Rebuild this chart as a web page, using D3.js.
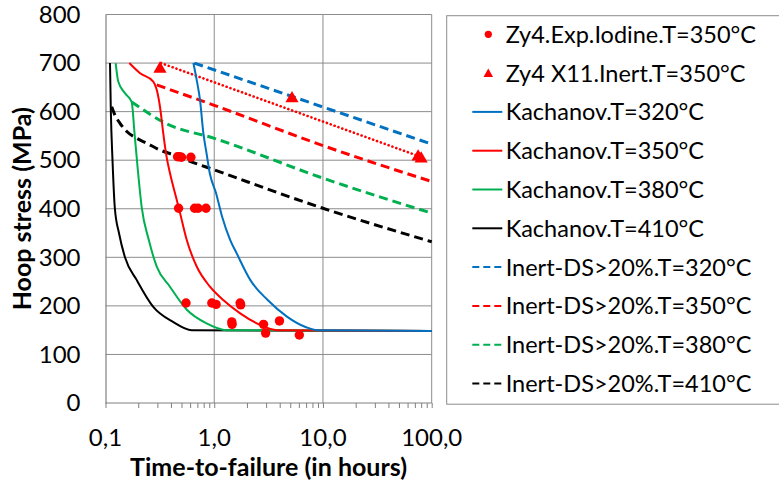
<!DOCTYPE html>
<html><head><meta charset="utf-8">
<script src="https://cdn.jsdelivr.net/npm/d3@7"></script>
<style>body{margin:0;background:#fff}svg{display:block}text{font-family:Lato,"Open Sans",sans-serif;fill:#000}</style>
</head><body>
<svg id="c" width="779" height="491"></svg>
<script>
// ---- data (time in hours, stress in MPa) ----
const xTicks = [0.1, 1, 10, 100];
const xTickLabels = ["0,1", "1,0", "10,0", "100,0"];
const yTicks = [0, 100, 200, 300, 400, 500, 600, 700, 800];

const iodine350 = [[0.46,507],[0.48,507],[0.50,506],[0.61,506],
  [0.47,401],[0.66,401],[0.71,401],[0.84,401],
  [0.55,206],[0.95,206],[1.04,203],[1.73,206],[1.75,202],
  [1.45,167],[1.46,162],[2.84,162],[2.97,144],[3.98,169],[6.06,140]];
const inert350 = [[0.317,688],[5.19,627],[75,507],[80,503]];
const inert350Trend = [[0.324,700],[79,507]];

const kach320 = [[0.643,700],[0.69,665],[0.74,624],[0.795,555],[0.85,514],[0.91,473],[1.04,432],[1.18,384],[1.40,336],[1.61,308],[2.15,253],[3.1,212],[4.66,178],[7.0,156],[8.8,150],[100,148.5]];
const kach350 = [[0.1655,700],[0.208,679],[0.275,662],[0.296,645],[0.317,610],[0.34,555],[0.36,514],[0.392,473],[0.45,420],[0.485,391],[0.558,336],[0.69,281],[0.91,240],[1.21,212],[1.72,185],[2.63,161],[3.76,150],[100,148.5]];
const kach380 = [[0.124,700],[0.131,662],[0.151,638],[0.174,620],[0.185,555],[0.197,487],[0.215,404],[0.25,336],[0.296,281],[0.39,240],[0.56,192],[0.85,164],[1.3,150],[100,148.5]];
const kach410 = [[0.110,700],[0.112,600],[0.116,500],[0.122,400],[0.133,350],[0.151,300],[0.194,253],[0.275,198],[0.418,167],[0.62,150],[100,148.5]];

const inert320 = [[0.656,700],[100,533]];
const inert350DS = [[0.296,655],[1,613],[10,530],[100,456]];
const inert380 = [[0.174,620],[0.365,575],[1,545],[10,463],[100,391]];
const inert410 = [[0.114,610],[0.122,593],[0.136,576],[0.157,559],[0.194,545],[0.239,535],[0.317,521],[0.42,511],[0.56,500],[1,480],[10,401],[100,332]];

const legendLabels = ["Zy4.Exp.Iodine.T=350°C","Zy4 X11.Inert.T=350°C","Kachanov.T=320°C","Kachanov.T=350°C","Kachanov.T=380°C","Kachanov.T=410°C","Inert-DS>20%.T=320°C","Inert-DS>20%.T=350°C","Inert-DS>20%.T=380°C","Inert-DS>20%.T=410°C"];

// ---- drawing ----
const BLUE="#0070C0", RED="#FF0000", GREEN="#00B050", BLACK="#000000";
const svg = d3.select("#c");
const L=105.5, R=431.7, T=14.5, B=403;
const x = d3.scaleLog().domain([0.1,100]).range([L,R]);
const y = d3.scaleLinear().domain([0,800]).range([B,T]);

// gridlines
const g = svg.append("g");
g.selectAll(".hg").data(yTicks.slice(1)).join("line")
  .attr("x1",L).attr("x2",R).attr("y1",d=>y(d)).attr("y2",d=>y(d))
  .attr("stroke","#8c8c8c").attr("stroke-width",1);
g.selectAll(".vg").data(xTicks.slice(1)).join("line")
  .attr("x1",d=>x(d)).attr("x2",d=>x(d)).attr("y1",T).attr("y2",B)
  .attr("stroke","#8c8c8c").attr("stroke-width",1);

// x axis with minor ticks
const minor = [];
for (let dec=0.1; dec<100; dec*=10) for (let k=1;k<10;k++) minor.push(+(dec*k).toPrecision(3));
minor.push(100);
const xAxis = d3.axisBottom(x).tickValues(minor).tickSize(5).tickFormat(()=>"");
const xg = svg.append("g").attr("transform",`translate(0,${B})`).call(xAxis);
xg.select(".domain").attr("stroke","#808080").attr("stroke-width",1.2).attr("d",`M${L},0H${R}`);
xg.selectAll(".tick line").attr("stroke","#808080");
svg.selectAll(".xl").data(xTicks).join("text")
  .attr("x",d=>x(d)).attr("y",446).attr("text-anchor","middle")
  .style("font-size","24px").text((d,i)=>xTickLabels[i]);

// y axis
const yAxis = d3.axisLeft(y).tickValues(yTicks).tickSize(0).tickPadding(25).tickFormat(d3.format("d"));
const yg = svg.append("g").attr("transform",`translate(${L},0)`).call(yAxis);
yg.select(".domain").attr("stroke","#808080").attr("stroke-width",1.2);
yg.selectAll("text").style("font-size","24px").style("font-family","Lato,'Open Sans',sans-serif");

// axis titles
svg.append("text").attr("x",(L+R)/2).attr("y",476).attr("text-anchor","middle")
  .style("font-size","25px").style("font-weight","bold").text("Time-to-failure (in hours)");
svg.append("text").attr("transform",`translate(31,${(T+B)/2}) rotate(-90)`).attr("text-anchor","middle")
  .style("font-size","25px").style("font-weight","bold").text("Hoop stress (MPa)");

// lines
const lineGen = d3.line().x(d=>x(d[0])).y(d=>y(d[1])).curve(d3.curveMonotoneX);
const straight = d3.line().x(d=>x(d[0])).y(d=>y(d[1]));
const plot = svg.append("g");
function path(data,color,w,dash,gen){
  plot.append("path").attr("d",(gen||lineGen)(data)).attr("fill","none")
    .attr("stroke",color).attr("stroke-width",w).attr("stroke-dasharray",dash||null)
    .attr("stroke-linecap", dash==="0.1 4" ? "round":"butt");
}
path(inert320,BLUE,3,"9 5",straight);
path(inert350DS,RED,3,"9 5");
path(inert380,GREEN,3,"9 5");
path(inert410,BLACK,3,"9 5");
path(inert350Trend,RED,2.6,"0.1 4",straight);
path(kach410,BLACK,2);
path(kach380,GREEN,2);
path(kach350,RED,2);
path(kach320,BLUE,2);

// markers
plot.selectAll(".pt").data(iodine350).join("circle")
  .attr("cx",d=>x(d[0])).attr("cy",d=>y(d[1])).attr("r",4.7).attr("fill",RED);
const tri = d3.symbol().type(d3.symbolTriangle).size(75);
plot.selectAll(".tr").data(inert350).join("path")
  .attr("transform",d=>`translate(${x(d[0])},${y(d[1])})`).attr("d",tri).attr("fill",RED);

// legend
const lg = svg.append("g");
lg.append("rect").attr("x",446.7).attr("y",15.7).attr("width",340).attr("height",388.5)
  .attr("fill","#fff").attr("stroke","#8c8c8c").attr("stroke-width",1);
const ly = i => 34.3 + i*38.8;
const styles = [null,null,[BLUE,null],[RED,null],[GREEN,null],[BLACK,null],[BLUE,"7 4"],[RED,"7 4"],[GREEN,"7 4"],[BLACK,"7 4"]];
legendLabels.forEach((lab,i)=>{
  const yy = ly(i);
  if (i===0) lg.append("circle").attr("cx",488.3).attr("cy",yy).attr("r",3.6).attr("fill",RED);
  else if (i===1) lg.append("path").attr("transform",`translate(488.3,${yy+1})`).attr("d",d3.symbol().type(d3.symbolTriangle).size(40)).attr("fill",RED);
  else lg.append("line").attr("x1",472.3).attr("x2",502.3).attr("y1",yy).attr("y2",yy)
        .attr("stroke",styles[i][0]).attr("stroke-width",2).attr("stroke-dasharray",styles[i][1]);
  lg.append("text").attr("x",505.7).attr("y",yy).attr("dy","0.36em")
    .style("font-size","23.5px").text(lab);
});
</script>
</body></html>
